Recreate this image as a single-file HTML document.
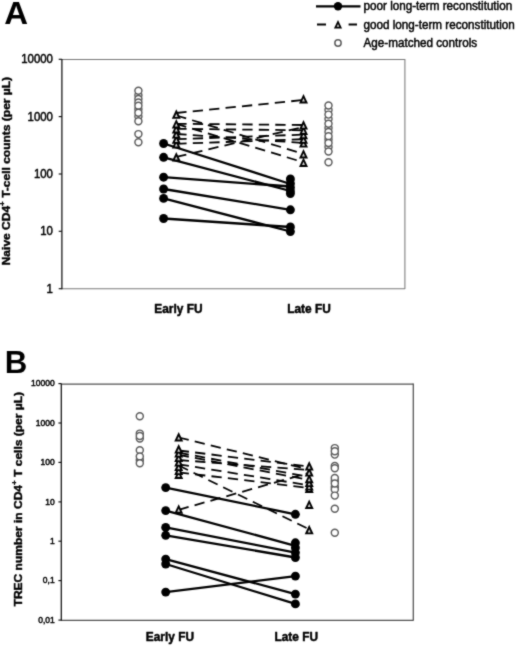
<!DOCTYPE html>
<html><head><meta charset="utf-8"><title>Figure</title>
<style>html,body{margin:0;padding:0;background:#fff;}svg{display:block;}</style></head>
<body>
<svg width="520" height="653" viewBox="0 0 520 653" font-family='"Liberation Sans", sans-serif'>
<defs><filter id="soft" color-interpolation-filters="sRGB" x="0" y="0" width="100%" height="100%" filterUnits="userSpaceOnUse"><feConvolveMatrix order="3" kernelMatrix="0.03 0.09 0.03 0.09 0.52 0.09 0.03 0.09 0.03" divisor="1" edgeMode="duplicate" preserveAlpha="true"/></filter></defs>
<g filter="url(#soft)" stroke-linejoin="round">
<rect width="520" height="653" fill="#fff"/>
<text transform="translate(4.2,23.7) scale(1.03,1)" font-size="32" font-weight="bold" fill="#000">A</text>
<text transform="translate(4.7,373.1) scale(0.97,1)" font-size="32.2" font-weight="bold" fill="#000">B</text>
<line x1="61.9" y1="59.4" x2="404.9" y2="59.4" stroke="#777" stroke-width="1.05"/>
<line x1="404.9" y1="59.0" x2="404.9" y2="289.09999999999997" stroke="#777" stroke-width="1.05"/>
<line x1="61.9" y1="288.7" x2="404.9" y2="288.7" stroke="#777" stroke-width="1.05"/>
<line x1="61.9" y1="58.9" x2="61.9" y2="289.2" stroke="#111" stroke-width="1.25"/>
<line x1="58.699999999999996" y1="59.3" x2="61.9" y2="59.3" stroke="#111" stroke-width="1.15"/>
<text transform="translate(52.9,63.40) scale(1,1.07)" font-size="11.4" text-anchor="end" fill="#000" stroke="#000" stroke-width="0.45">10000</text>
<line x1="58.699999999999996" y1="116.6" x2="61.9" y2="116.6" stroke="#111" stroke-width="1.15"/>
<text transform="translate(52.9,120.70) scale(1,1.07)" font-size="11.4" text-anchor="end" fill="#000" stroke="#000" stroke-width="0.45">1000</text>
<line x1="58.699999999999996" y1="174.0" x2="61.9" y2="174.0" stroke="#111" stroke-width="1.15"/>
<text transform="translate(52.9,178.10) scale(1,1.07)" font-size="11.4" text-anchor="end" fill="#000" stroke="#000" stroke-width="0.45">100</text>
<line x1="58.699999999999996" y1="231.3" x2="61.9" y2="231.3" stroke="#111" stroke-width="1.15"/>
<text transform="translate(52.9,235.40) scale(1,1.07)" font-size="11.4" text-anchor="end" fill="#000" stroke="#000" stroke-width="0.45">10</text>
<line x1="58.699999999999996" y1="288.7" x2="61.9" y2="288.7" stroke="#111" stroke-width="1.15"/>
<text transform="translate(52.9,292.80) scale(1,1.07)" font-size="11.4" text-anchor="end" fill="#000" stroke="#000" stroke-width="0.45">1</text>
<circle cx="138.4" cy="95.3" r="3.5" fill="#fff" stroke="#5c5c5c" stroke-width="1.45"/>
<circle cx="138.4" cy="99" r="3.5" fill="#fff" stroke="#5c5c5c" stroke-width="1.45"/>
<circle cx="138.4" cy="102.5" r="3.5" fill="#fff" stroke="#5c5c5c" stroke-width="1.45"/>
<circle cx="138.4" cy="109.3" r="3.5" fill="#fff" stroke="#5c5c5c" stroke-width="1.45"/>
<circle cx="138.4" cy="116.5" r="3.5" fill="#fff" stroke="#5c5c5c" stroke-width="1.45"/>
<circle cx="138.4" cy="90.7" r="3.5" fill="#fff" stroke="#5c5c5c" stroke-width="1.45"/>
<circle cx="138.4" cy="105.7" r="3.5" fill="#fff" stroke="#5c5c5c" stroke-width="1.45"/>
<circle cx="138.4" cy="112.7" r="3.5" fill="#fff" stroke="#5c5c5c" stroke-width="1.45"/>
<circle cx="138.4" cy="121.3" r="3.5" fill="#fff" stroke="#5c5c5c" stroke-width="1.45"/>
<circle cx="138.4" cy="134.1" r="3.5" fill="#fff" stroke="#5c5c5c" stroke-width="1.45"/>
<circle cx="138.4" cy="142.2" r="3.5" fill="#fff" stroke="#5c5c5c" stroke-width="1.45"/>
<circle cx="328.5" cy="110" r="3.5" fill="#fff" stroke="#5c5c5c" stroke-width="1.45"/>
<circle cx="328.5" cy="119" r="3.5" fill="#fff" stroke="#5c5c5c" stroke-width="1.45"/>
<circle cx="328.5" cy="128" r="3.5" fill="#fff" stroke="#5c5c5c" stroke-width="1.45"/>
<circle cx="328.5" cy="132" r="3.5" fill="#fff" stroke="#5c5c5c" stroke-width="1.45"/>
<circle cx="328.5" cy="139.5" r="3.5" fill="#fff" stroke="#5c5c5c" stroke-width="1.45"/>
<circle cx="328.5" cy="147" r="3.5" fill="#fff" stroke="#5c5c5c" stroke-width="1.45"/>
<circle cx="328.5" cy="105.4" r="3.5" fill="#fff" stroke="#5c5c5c" stroke-width="1.45"/>
<circle cx="328.5" cy="114.6" r="3.5" fill="#fff" stroke="#5c5c5c" stroke-width="1.45"/>
<circle cx="328.5" cy="123.8" r="3.5" fill="#fff" stroke="#5c5c5c" stroke-width="1.45"/>
<circle cx="328.5" cy="136.2" r="3.5" fill="#fff" stroke="#5c5c5c" stroke-width="1.45"/>
<circle cx="328.5" cy="143" r="3.5" fill="#fff" stroke="#5c5c5c" stroke-width="1.45"/>
<circle cx="328.5" cy="151.5" r="3.5" fill="#fff" stroke="#5c5c5c" stroke-width="1.45"/>
<circle cx="328.5" cy="162.3" r="3.5" fill="#fff" stroke="#5c5c5c" stroke-width="1.45"/>
<line x1="176.3" y1="113" x2="303.5" y2="100" stroke="#000" stroke-width="1.8" stroke-dasharray="10.3 6.2"/>
<line x1="176.3" y1="115.5" x2="303.5" y2="153.8" stroke="#000" stroke-width="1.8" stroke-dasharray="10.3 6.2"/>
<line x1="176.3" y1="123.8" x2="303.5" y2="162.3" stroke="#000" stroke-width="1.8" stroke-dasharray="10.3 6.2"/>
<line x1="176.3" y1="123.8" x2="303.5" y2="125" stroke="#000" stroke-width="1.8" stroke-dasharray="10.3 6.2"/>
<line x1="176.3" y1="128.8" x2="303.5" y2="130.3" stroke="#000" stroke-width="1.8" stroke-dasharray="10.3 6.2"/>
<line x1="176.3" y1="134" x2="303.5" y2="143" stroke="#000" stroke-width="1.8" stroke-dasharray="10.3 6.2"/>
<line x1="176.3" y1="139.2" x2="303.5" y2="134.6" stroke="#000" stroke-width="1.8" stroke-dasharray="10.3 6.2"/>
<line x1="176.3" y1="143.8" x2="303.5" y2="139.2" stroke="#000" stroke-width="1.8" stroke-dasharray="10.3 6.2"/>
<line x1="176.3" y1="156.9" x2="303.5" y2="127" stroke="#000" stroke-width="1.8" stroke-dasharray="10.3 6.2"/>
<line x1="163.6" y1="143.5" x2="290.4" y2="184" stroke="#000" stroke-width="2.3"/>
<line x1="163.6" y1="157.3" x2="290.4" y2="191" stroke="#000" stroke-width="2.3"/>
<line x1="163.6" y1="177.2" x2="290.4" y2="186.5" stroke="#000" stroke-width="2.3"/>
<line x1="163.6" y1="189" x2="290.4" y2="209.8" stroke="#000" stroke-width="2.3"/>
<line x1="163.6" y1="198.4" x2="290.4" y2="231.5" stroke="#000" stroke-width="2.3"/>
<line x1="163.6" y1="218.5" x2="290.4" y2="227" stroke="#000" stroke-width="2.3"/>
<path d="M176.3 152.00 L180.80 161.50 L171.80 161.50 Z" fill="#000"/><path d="M176.3 156.40 L177.75 159.60 L174.85 159.60 Z" fill="#d4d4d4"/>
<path d="M176.3 138.90 L180.80 148.40 L171.80 148.40 Z" fill="#000"/><path d="M176.3 143.30 L177.75 146.50 L174.85 146.50 Z" fill="#d4d4d4"/>
<path d="M176.3 134.30 L180.80 143.80 L171.80 143.80 Z" fill="#000"/><path d="M176.3 138.70 L177.75 141.90 L174.85 141.90 Z" fill="#d4d4d4"/>
<path d="M176.3 129.10 L180.80 138.60 L171.80 138.60 Z" fill="#000"/><path d="M176.3 133.50 L177.75 136.70 L174.85 136.70 Z" fill="#d4d4d4"/>
<path d="M176.3 123.90 L180.80 133.40 L171.80 133.40 Z" fill="#000"/><path d="M176.3 128.30 L177.75 131.50 L174.85 131.50 Z" fill="#d4d4d4"/>
<path d="M176.3 118.90 L180.80 128.40 L171.80 128.40 Z" fill="#000"/><path d="M176.3 123.30 L177.75 126.50 L174.85 126.50 Z" fill="#d4d4d4"/>
<path d="M176.3 109.30 L180.80 118.80 L171.80 118.80 Z" fill="#000"/><path d="M176.3 113.70 L177.75 116.90 L174.85 116.90 Z" fill="#d4d4d4"/>
<path d="M303.5 157.40 L308.00 166.90 L299.00 166.90 Z" fill="#000"/><path d="M303.5 161.80 L304.95 165.00 L302.05 165.00 Z" fill="#d4d4d4"/>
<path d="M303.5 148.90 L308.00 158.40 L299.00 158.40 Z" fill="#000"/><path d="M303.5 153.30 L304.95 156.50 L302.05 156.50 Z" fill="#d4d4d4"/>
<path d="M303.5 138.10 L308.00 147.60 L299.00 147.60 Z" fill="#000"/><path d="M303.5 142.50 L304.95 145.70 L302.05 145.70 Z" fill="#d4d4d4"/>
<path d="M303.5 134.30 L308.00 143.80 L299.00 143.80 Z" fill="#000"/><path d="M303.5 138.70 L304.95 141.90 L302.05 141.90 Z" fill="#d4d4d4"/>
<path d="M303.5 129.70 L308.00 139.20 L299.00 139.20 Z" fill="#000"/><path d="M303.5 134.10 L304.95 137.30 L302.05 137.30 Z" fill="#d4d4d4"/>
<path d="M303.5 125.40 L308.00 134.90 L299.00 134.90 Z" fill="#000"/><path d="M303.5 129.80 L304.95 133.00 L302.05 133.00 Z" fill="#d4d4d4"/>
<path d="M303.5 120.10 L308.00 129.60 L299.00 129.60 Z" fill="#000"/><path d="M303.5 124.50 L304.95 127.70 L302.05 127.70 Z" fill="#d4d4d4"/>
<path d="M303.5 93.90 L308.00 103.40 L299.00 103.40 Z" fill="#000"/><path d="M303.5 98.30 L304.95 101.50 L302.05 101.50 Z" fill="#d4d4d4"/>
<circle cx="163.6" cy="143.5" r="4.45" fill="#000"/>
<circle cx="163.6" cy="157.3" r="4.45" fill="#000"/>
<circle cx="163.6" cy="177.2" r="4.45" fill="#000"/>
<circle cx="163.6" cy="189" r="4.45" fill="#000"/>
<circle cx="163.6" cy="198.4" r="4.45" fill="#000"/>
<circle cx="163.6" cy="218.5" r="4.45" fill="#000"/>
<circle cx="290.4" cy="179" r="4.45" fill="#000"/>
<circle cx="290.4" cy="183.5" r="4.45" fill="#000"/>
<circle cx="290.4" cy="187.5" r="4.45" fill="#000"/>
<circle cx="290.4" cy="191" r="4.45" fill="#000"/>
<circle cx="290.4" cy="193.6" r="4.45" fill="#000"/>
<circle cx="290.4" cy="209.8" r="4.45" fill="#000"/>
<circle cx="290.4" cy="227" r="4.45" fill="#000"/>
<circle cx="290.4" cy="231.6" r="4.45" fill="#000"/>
<line x1="61.3" y1="384.0" x2="413.3" y2="384.0" stroke="#505050" stroke-width="1.25"/>
<line x1="413.3" y1="383.6" x2="413.3" y2="620.6999999999999" stroke="#505050" stroke-width="1.25"/>
<line x1="61.3" y1="620.3" x2="413.3" y2="620.3" stroke="#505050" stroke-width="1.25"/>
<line x1="61.3" y1="383.5" x2="61.3" y2="620.8" stroke="#111" stroke-width="1.25"/>
<line x1="58.4" y1="383.6" x2="61.3" y2="383.6" stroke="#111" stroke-width="1.15"/>
<text transform="translate(54.7,386.20) scale(1,1.0)" font-size="8.5" text-anchor="end" fill="#000" stroke="#000" stroke-width="0.45">10000</text>
<line x1="58.4" y1="423.0" x2="61.3" y2="423.0" stroke="#111" stroke-width="1.15"/>
<text transform="translate(54.7,425.60) scale(1,1.0)" font-size="8.5" text-anchor="end" fill="#000" stroke="#000" stroke-width="0.45">1000</text>
<line x1="58.4" y1="462.4" x2="61.3" y2="462.4" stroke="#111" stroke-width="1.15"/>
<text transform="translate(54.7,465.00) scale(1,1.0)" font-size="8.5" text-anchor="end" fill="#000" stroke="#000" stroke-width="0.45">100</text>
<line x1="58.4" y1="501.9" x2="61.3" y2="501.9" stroke="#111" stroke-width="1.15"/>
<text transform="translate(54.7,504.50) scale(1,1.0)" font-size="8.5" text-anchor="end" fill="#000" stroke="#000" stroke-width="0.45">10</text>
<line x1="58.4" y1="541.2" x2="61.3" y2="541.2" stroke="#111" stroke-width="1.15"/>
<text transform="translate(54.7,543.80) scale(1,1.0)" font-size="8.5" text-anchor="end" fill="#000" stroke="#000" stroke-width="0.45">1</text>
<line x1="58.4" y1="580.6" x2="61.3" y2="580.6" stroke="#111" stroke-width="1.15"/>
<text transform="translate(54.7,583.20) scale(1,1.0)" font-size="8.5" text-anchor="end" fill="#000" stroke="#000" stroke-width="0.45">0,1</text>
<line x1="58.4" y1="620.1" x2="61.3" y2="620.1" stroke="#111" stroke-width="1.15"/>
<text transform="translate(54.7,622.70) scale(1,1.0)" font-size="8.5" text-anchor="end" fill="#000" stroke="#000" stroke-width="0.45">0,01</text>
<circle cx="139.8" cy="433.6" r="3.5" fill="#fff" stroke="#5c5c5c" stroke-width="1.45"/>
<circle cx="139.8" cy="438.5" r="3.5" fill="#fff" stroke="#5c5c5c" stroke-width="1.45"/>
<circle cx="139.8" cy="436" r="3.5" fill="#fff" stroke="#5c5c5c" stroke-width="1.45"/>
<circle cx="139.8" cy="460" r="3.5" fill="#fff" stroke="#5c5c5c" stroke-width="1.45"/>
<circle cx="139.8" cy="450.2" r="3.5" fill="#fff" stroke="#5c5c5c" stroke-width="1.45"/>
<circle cx="139.8" cy="456.4" r="3.5" fill="#fff" stroke="#5c5c5c" stroke-width="1.45"/>
<circle cx="139.8" cy="463.3" r="3.5" fill="#fff" stroke="#5c5c5c" stroke-width="1.45"/>
<circle cx="139.8" cy="416.3" r="3.5" fill="#fff" stroke="#5c5c5c" stroke-width="1.45"/>
<circle cx="334.8" cy="448.1" r="3.5" fill="#fff" stroke="#5c5c5c" stroke-width="1.45"/>
<circle cx="334.8" cy="454.6" r="3.5" fill="#fff" stroke="#5c5c5c" stroke-width="1.45"/>
<circle cx="334.8" cy="451.3" r="3.5" fill="#fff" stroke="#5c5c5c" stroke-width="1.45"/>
<circle cx="334.8" cy="466" r="3.5" fill="#fff" stroke="#5c5c5c" stroke-width="1.45"/>
<circle cx="334.8" cy="468.2" r="3.5" fill="#fff" stroke="#5c5c5c" stroke-width="1.45"/>
<circle cx="334.8" cy="481" r="3.5" fill="#fff" stroke="#5c5c5c" stroke-width="1.45"/>
<circle cx="334.8" cy="487" r="3.5" fill="#fff" stroke="#5c5c5c" stroke-width="1.45"/>
<circle cx="334.8" cy="489.5" r="3.5" fill="#fff" stroke="#5c5c5c" stroke-width="1.45"/>
<circle cx="334.8" cy="477.9" r="3.5" fill="#fff" stroke="#5c5c5c" stroke-width="1.45"/>
<circle cx="334.8" cy="483.5" r="3.5" fill="#fff" stroke="#5c5c5c" stroke-width="1.45"/>
<circle cx="334.8" cy="495.6" r="3.5" fill="#fff" stroke="#5c5c5c" stroke-width="1.45"/>
<circle cx="334.8" cy="508.8" r="3.5" fill="#fff" stroke="#5c5c5c" stroke-width="1.45"/>
<circle cx="334.8" cy="532.8" r="3.5" fill="#fff" stroke="#5c5c5c" stroke-width="1.45"/>
<line x1="178.7" y1="437.5" x2="309.2" y2="469.5" stroke="#000" stroke-width="1.8" stroke-dasharray="10.3 6.2"/>
<line x1="178.7" y1="509.8" x2="309.2" y2="472.8" stroke="#000" stroke-width="1.8" stroke-dasharray="10.3 6.2"/>
<line x1="178.7" y1="465.5" x2="309.2" y2="529.3" stroke="#000" stroke-width="1.8" stroke-dasharray="10.3 6.2"/>
<line x1="178.7" y1="450.5" x2="309.2" y2="466.5" stroke="#000" stroke-width="1.8" stroke-dasharray="10.3 6.2"/>
<line x1="178.7" y1="452.7" x2="309.2" y2="477" stroke="#000" stroke-width="1.8" stroke-dasharray="10.3 6.2"/>
<line x1="178.7" y1="454.8" x2="309.2" y2="480" stroke="#000" stroke-width="1.8" stroke-dasharray="10.3 6.2"/>
<line x1="178.7" y1="460" x2="309.2" y2="470" stroke="#000" stroke-width="1.8" stroke-dasharray="10.3 6.2"/>
<line x1="178.7" y1="464.3" x2="309.2" y2="485.4" stroke="#000" stroke-width="1.8" stroke-dasharray="10.3 6.2"/>
<line x1="178.7" y1="472.3" x2="309.2" y2="488" stroke="#000" stroke-width="1.8" stroke-dasharray="10.3 6.2"/>
<line x1="165.7" y1="487.6" x2="295.4" y2="514.3" stroke="#000" stroke-width="2.3"/>
<line x1="165.7" y1="510.6" x2="295.4" y2="545.8" stroke="#000" stroke-width="2.3"/>
<line x1="165.7" y1="527.4" x2="295.4" y2="552.6" stroke="#000" stroke-width="2.3"/>
<line x1="165.7" y1="535.3" x2="295.4" y2="557.5" stroke="#000" stroke-width="2.3"/>
<line x1="165.7" y1="559.1" x2="295.4" y2="594.1" stroke="#000" stroke-width="2.3"/>
<line x1="165.7" y1="564" x2="295.4" y2="603.9" stroke="#000" stroke-width="2.3"/>
<line x1="165.7" y1="592.1" x2="295.4" y2="576.1" stroke="#000" stroke-width="2.3"/>
<path d="M178.7 504.20 L183.20 513.70 L174.20 513.70 Z" fill="#000"/><path d="M178.7 508.60 L180.15 511.80 L177.25 511.80 Z" fill="#d4d4d4"/>
<path d="M178.7 469.40 L183.20 478.90 L174.20 478.90 Z" fill="#000"/><path d="M178.7 473.80 L180.15 477.00 L177.25 477.00 Z" fill="#d4d4d4"/>
<path d="M178.7 465.60 L183.20 475.10 L174.20 475.10 Z" fill="#000"/><path d="M178.7 470.00 L180.15 473.20 L177.25 473.20 Z" fill="#d4d4d4"/>
<path d="M178.7 461.60 L183.20 471.10 L174.20 471.10 Z" fill="#000"/><path d="M178.7 466.00 L180.15 469.20 L177.25 469.20 Z" fill="#d4d4d4"/>
<path d="M178.7 457.10 L183.20 466.60 L174.20 466.60 Z" fill="#000"/><path d="M178.7 461.50 L180.15 464.70 L177.25 464.70 Z" fill="#d4d4d4"/>
<path d="M178.7 452.60 L183.20 462.10 L174.20 462.10 Z" fill="#000"/><path d="M178.7 457.00 L180.15 460.20 L177.25 460.20 Z" fill="#d4d4d4"/>
<path d="M178.7 448.10 L183.20 457.60 L174.20 457.60 Z" fill="#000"/><path d="M178.7 452.50 L180.15 455.70 L177.25 455.70 Z" fill="#d4d4d4"/>
<path d="M178.7 444.10 L183.20 453.60 L174.20 453.60 Z" fill="#000"/><path d="M178.7 448.50 L180.15 451.70 L177.25 451.70 Z" fill="#d4d4d4"/>
<path d="M178.7 432.00 L183.20 441.50 L174.20 441.50 Z" fill="#000"/><path d="M178.7 436.40 L180.15 439.60 L177.25 439.60 Z" fill="#d4d4d4"/>
<path d="M309.2 524.80 L313.70 534.30 L304.70 534.30 Z" fill="#000"/><path d="M309.2 529.20 L310.65 532.40 L307.75 532.40 Z" fill="#d4d4d4"/>
<path d="M309.2 499.40 L313.70 508.90 L304.70 508.90 Z" fill="#000"/><path d="M309.2 503.80 L310.65 507.00 L307.75 507.00 Z" fill="#d4d4d4"/>
<path d="M309.2 483.40 L313.70 492.90 L304.70 492.90 Z" fill="#000"/><path d="M309.2 487.80 L310.65 491.00 L307.75 491.00 Z" fill="#d4d4d4"/>
<path d="M309.2 481.10 L313.70 490.60 L304.70 490.60 Z" fill="#000"/><path d="M309.2 485.50 L310.65 488.70 L307.75 488.70 Z" fill="#d4d4d4"/>
<path d="M309.2 477.60 L313.70 487.10 L304.70 487.10 Z" fill="#000"/><path d="M309.2 482.00 L310.65 485.20 L307.75 485.20 Z" fill="#d4d4d4"/>
<path d="M309.2 473.70 L313.70 483.20 L304.70 483.20 Z" fill="#000"/><path d="M309.2 478.10 L310.65 481.30 L307.75 481.30 Z" fill="#d4d4d4"/>
<path d="M309.2 467.10 L313.70 476.60 L304.70 476.60 Z" fill="#000"/><path d="M309.2 471.50 L310.65 474.70 L307.75 474.70 Z" fill="#d4d4d4"/>
<path d="M309.2 461.10 L313.70 470.60 L304.70 470.60 Z" fill="#000"/><path d="M309.2 465.50 L310.65 468.70 L307.75 468.70 Z" fill="#d4d4d4"/>
<circle cx="165.7" cy="487.6" r="4.45" fill="#000"/>
<circle cx="165.7" cy="510.6" r="4.45" fill="#000"/>
<circle cx="165.7" cy="527.4" r="4.45" fill="#000"/>
<circle cx="165.7" cy="535.3" r="4.45" fill="#000"/>
<circle cx="165.7" cy="559.1" r="4.45" fill="#000"/>
<circle cx="165.7" cy="564" r="4.45" fill="#000"/>
<circle cx="165.7" cy="592.1" r="4.45" fill="#000"/>
<circle cx="295.4" cy="514.3" r="4.45" fill="#000"/>
<circle cx="295.4" cy="542.8" r="4.45" fill="#000"/>
<circle cx="295.4" cy="547.7" r="4.45" fill="#000"/>
<circle cx="295.4" cy="552.6" r="4.45" fill="#000"/>
<circle cx="295.4" cy="557.5" r="4.45" fill="#000"/>
<circle cx="295.4" cy="576.1" r="4.45" fill="#000"/>
<circle cx="295.4" cy="594.1" r="4.45" fill="#000"/>
<circle cx="295.4" cy="603.9" r="4.45" fill="#000"/>
<text transform="translate(178.4,313.4) scale(1,1.09)" font-size="11.9" font-weight="bold" text-anchor="middle" fill="#000" stroke="#000" stroke-width="0.45">Early FU</text>
<text transform="translate(309,313.4) scale(1,1.09)" font-size="11.9" font-weight="bold" text-anchor="middle" fill="#000" stroke="#000" stroke-width="0.45">Late FU</text>
<text transform="translate(169.9,641.3) scale(1,1.09)" font-size="11.9" font-weight="bold" text-anchor="middle" fill="#000" stroke="#000" stroke-width="0.45">Early FU</text>
<text transform="translate(296.2,641.3) scale(1,1.09)" font-size="11.9" font-weight="bold" text-anchor="middle" fill="#000" stroke="#000" stroke-width="0.45">Late FU</text>
<text transform="translate(9.6,265.3) rotate(-90) scale(1.15,1)" font-size="10.45" font-weight="bold" fill="#000" stroke="#000" stroke-width="0.4">Naive CD4<tspan dy="-4.6" font-size="7">+</tspan><tspan dy="4.6"> T-cell counts (per µL)</tspan></text>
<text transform="translate(21.9,606.4) rotate(-90) scale(1.15,1)" font-size="10.45" font-weight="bold" fill="#000" stroke="#000" stroke-width="0.4">TREC number in CD4<tspan dy="-4.6" font-size="7">+</tspan><tspan dy="4.6"> T cells (per µL)</tspan></text>
<line x1="316" y1="6.3" x2="360.5" y2="6.3" stroke="#000" stroke-width="2.3"/>
<circle cx="338" cy="6.3" r="4.2" fill="#000"/>
<line x1="317" y1="24.5" x2="326" y2="24.5" stroke="#000" stroke-width="2"/><line x1="348.6" y1="24.5" x2="357" y2="24.5" stroke="#000" stroke-width="2"/>
<path d="M338 19.99 L342.05 28.54 L333.95 28.54 Z" fill="#000"/><path d="M338 23.95 L339.31 26.83 L336.69 26.83 Z" fill="#d4d4d4"/>
<circle cx="338" cy="43" r="3.15" fill="#fff" stroke="#5c5c5c" stroke-width="1.5"/>
<text transform="translate(363.5,10.4) scale(1,1.1)" font-size="11.7" fill="#000" stroke="#000" stroke-width="0.45">poor long-term reconstitution</text>
<text transform="translate(363.5,28.9) scale(1,1.1)" font-size="11.7" fill="#000" stroke="#000" stroke-width="0.45">good long-term reconstitution</text>
<text transform="translate(363.5,47) scale(1,1.1)" font-size="11.7" fill="#000" stroke="#000" stroke-width="0.45">Age-matched controls</text>
</g>
</svg>
</body></html>
